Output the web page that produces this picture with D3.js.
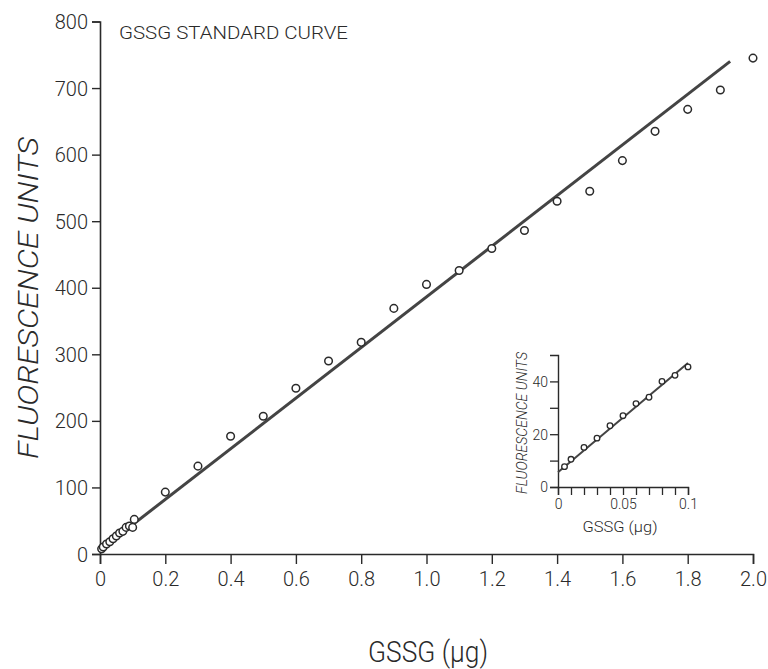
<!DOCTYPE html>
<html><head><meta charset="utf-8">
<script src="https://cdn.jsdelivr.net/npm/d3@7"></script>
<style>
body{margin:0;background:#fff;}
text{font-family:Roboto,"Open Sans",sans-serif;font-weight:300;fill:#2a2a2a;}
</style></head><body>
<svg id="c" width="768" height="669"></svg>
<script>
// main chart data (GSSG µg vs fluorescence units)
const mainX = [0.005,0.01,0.02,0.03,0.04,0.05,0.06,0.07,0.08,0.09,0.1,0.105,0.2,0.3,0.4,0.5,0.6,0.7,0.8,0.9,1.0,1.1,1.2,1.3,1.4,1.5,1.6,1.7,1.8,1.9,2.0];
const mainY = [7.7,10.5,15,18.5,23,27,31.5,34,40,42,40,52,93,132,177,207,249,290,318,369,405,426,459,486,530,545,591,635,668,697,745];
const mainLineX = [0,1.93];
const mainLineY = [6,740];
const mainXTicks = [0,0.2,0.4,0.6,0.8,1.0,1.2,1.4,1.6,1.8,2.0];
const mainYTicks = [0,100,200,300,400,500,600,700,800];
// inset data
const insetX = [0.005,0.01,0.02,0.03,0.04,0.05,0.06,0.07,0.08,0.09,0.1];
const insetY = [7.7,10.5,15,18.5,23.2,27,31.6,34,40,42.3,45.5];
const insetLineX = [0,0.1];
const insetLineY = [5.6,47];
const insetXTicks = [0,0.01,0.02,0.03,0.04,0.05,0.06,0.07,0.08,0.09,0.1];
const insetXLabels = {0:"0",0.05:"0.05",0.1:"0.1"};
const insetYTicks = [0,10,20,30,40];
const insetYLabels = {0:"0",20:"20",40:"40"};

const svg = d3.select("#c");
const ink = "#2a2a2a";

// ---- main chart ----
const x = d3.scaleLinear().domain([0,2]).range([100,753]);
const y = d3.scaleLinear().domain([0,800]).range([554,21.5]);

const gx = svg.append("g").attr("transform","translate(0,554)")
  .call(d3.axisBottom(x).tickValues(mainXTicks).tickSize(10).tickPadding(5)
    .tickFormat(d => d===0 ? "0" : d3.format(".1f")(d)));
const gy = svg.append("g").attr("transform","translate(100,0)")
  .call(d3.axisLeft(y).tickValues(mainYTicks).tickSize(8).tickPadding(4).tickFormat(d3.format("d")));
[gx,gy].forEach(g=>{
  g.select(".domain").attr("stroke",ink).attr("stroke-width",1.6);
  g.selectAll(".tick line").attr("stroke",ink).attr("stroke-width",1.4);
  g.selectAll(".tick text").attr("font-size",20).attr("fill",ink)
   .style("font-family","Roboto,sans-serif").style("font-weight",300);
});
gx.selectAll(".tick text").attr("dy","0.85em");
gy.selectAll(".tick text").attr("dy","0.35em");

svg.append("line")
  .attr("x1",x(mainLineX[0])).attr("y1",y(mainLineY[0]))
  .attr("x2",x(mainLineX[1])).attr("y2",y(mainLineY[1]))
  .attr("stroke","#444").attr("stroke-width",3);

svg.append("g").selectAll("circle").data(mainX.map((d,i)=>[d,mainY[i]])).join("circle")
  .attr("cx",d=>x(d[0])).attr("cy",d=>y(d[1])).attr("r",3.8)
  .attr("fill","#fff").attr("stroke",ink).attr("stroke-width",1.5);

svg.append("text").attr("x",119).attr("y",39).attr("font-size",19)
  .attr("textLength",229).attr("lengthAdjust","spacingAndGlyphs").text("GSSG  STANDARD  CURVE");

svg.append("text").attr("transform","translate(38,298) rotate(-90)").attr("text-anchor","middle")
  .attr("font-size",28).attr("font-style","italic")
  .attr("textLength",322).attr("lengthAdjust","spacingAndGlyphs").text("FLUORESCENCE UNITS");
svg.append("text").attr("x",428).attr("y",662).attr("text-anchor","middle")
  .attr("font-size",29).attr("textLength",120).attr("lengthAdjust","spacingAndGlyphs").text("GSSG (µg)");

// ---- inset ----
const ix = d3.scaleLinear().domain([0,0.1]).range([558,688]);
const iy = d3.scaleLinear().domain([0,50]).range([487,355]);

const igx = svg.append("g").attr("transform","translate(0,487)")
  .call(d3.axisBottom(ix).tickValues(insetXTicks).tickSize(8).tickPadding(4)
    .tickFormat(d => insetXLabels[+d.toFixed(2)] || ""));
const igy = svg.append("g").attr("transform","translate(558,0)")
  .call(d3.axisLeft(iy).tickValues(insetYTicks).tickSize(8).tickPadding(2)
    .tickFormat(d => insetYLabels[d] || ""));
[igx,igy].forEach(g=>{
  g.select(".domain").attr("stroke",ink).attr("stroke-width",1.4);
  g.selectAll(".tick line").attr("stroke",ink).attr("stroke-width",1.3);
  g.selectAll(".tick text").attr("font-size",14).attr("fill",ink)
   .style("font-family","Roboto,sans-serif").style("font-weight",300);
});
igy.selectAll(".tick text").attr("dy","0.35em");

svg.append("line")
  .attr("x1",ix(insetLineX[0])).attr("y1",iy(insetLineY[0]))
  .attr("x2",ix(insetLineX[1])).attr("y2",iy(insetLineY[1]))
  .attr("stroke","#444").attr("stroke-width",2);

svg.append("g").selectAll("circle").data(insetX.map((d,i)=>[d,insetY[i]])).join("circle")
  .attr("cx",d=>ix(d[0])).attr("cy",d=>iy(d[1])).attr("r",2.8)
  .attr("fill","#fff").attr("stroke",ink).attr("stroke-width",1.3);

svg.append("text").attr("transform","translate(527,423) rotate(-90)").attr("text-anchor","middle")
  .attr("font-size",14).attr("font-style","italic")
  .attr("textLength",142).attr("lengthAdjust","spacingAndGlyphs").text("FLUORESCENCE UNITS");
svg.append("text").attr("x",620).attr("y",532).attr("text-anchor","middle")
  .attr("font-size",15).attr("textLength",75).attr("lengthAdjust","spacingAndGlyphs").text("GSSG (µg)");
</script></body></html>
